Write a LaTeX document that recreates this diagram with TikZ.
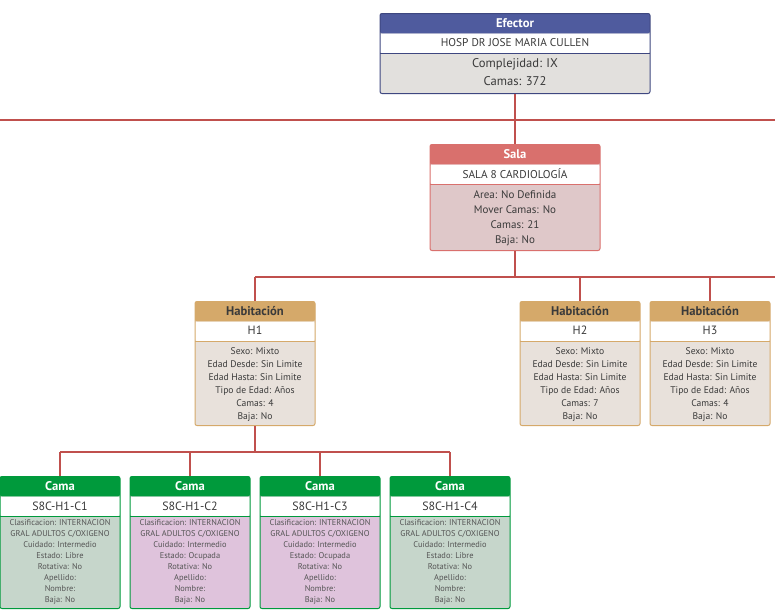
\documentclass[tikz,border=0pt]{standalone}
\usepackage{fontspec}
\setmainfont{PT Sans}
\definecolor{linered}{HTML}{C0504D}
\definecolor{efhead}{HTML}{4F5B9E}
\definecolor{efbody}{HTML}{E2E0DD}
\definecolor{efborder}{HTML}{3E4780}
\definecolor{sahead}{HTML}{D9706D}
\definecolor{sabody}{HTML}{DFC8C9}
\definecolor{saborder}{HTML}{D9706D}
\definecolor{hahead}{HTML}{D5A96A}
\definecolor{habody}{HTML}{E8E1DB}
\definecolor{haborder}{HTML}{D5A96A}
\definecolor{cghead}{HTML}{009A3C}
\definecolor{cgbody}{HTML}{C6D6CB}
\definecolor{cgborder}{HTML}{009A3C}
\definecolor{cphead}{HTML}{009A3C}
\definecolor{cpbody}{HTML}{DFC3DC}
\definecolor{cpborder}{HTML}{009A3C}
\definecolor{txt}{HTML}{3A3A3A}
\definecolor{txtl}{HTML}{555555}
\newcommand\card[6]{%
  \node[cardbox, draw=#6border, fill=#6body, minimum width=#4pt, minimum height=#5pt, anchor=north,
    path picture={
      \fill[#6head] (path picture bounding box.north west) rectangle ([yshift=-20pt]path picture bounding box.north east);
      \fill[white] ([yshift=-20pt]path picture bounding box.north west) rectangle ([yshift=-39.5pt]path picture bounding box.north east);
      \draw[#6border, line width=1pt] ([yshift=-39.5pt]path picture bounding box.north west) -- ([yshift=-39.5pt]path picture bounding box.north east);
    }] (#1) at (#2,#3) {};%
}
\begin{document}
\begin{tikzpicture}[x=1pt,y=-1pt,
  conn/.style={draw=linered, line width=2pt},
  cardbox/.style={rectangle, rounded corners=2pt, line width=1pt, inner sep=0pt},
  ttl/.style={inner sep=0pt, font=\fontsize{12.6}{14}\selectfont\bfseries},
  sub/.style={inner sep=0pt, text=txt, font=\fontsize{11.3}{13}\selectfont},
  csub/.style={inner sep=0pt, text=txt, font=\fontsize{12}{14}\selectfont},
  efb/.style={inner sep=0pt, align=center, text=txt, font=\fontsize{12.6}{18}\selectfont},
  sab/.style={inner sep=0pt, align=center, text=txt, font=\fontsize{11}{15}\selectfont},
  hab/.style={inner sep=0pt, align=center, text=txt, font=\fontsize{9.6}{13}\selectfont},
  cab/.style={inner sep=0pt, align=center, text=txtl, font=\fontsize{8.4}{11}\selectfont},
]
\useasboundingbox (0,0) rectangle (775,614);

% connectors
\coordinate (topL) at (0,120);
\coordinate (topR) at (775,120);
\coordinate (topJ) at (515,120);
\coordinate (midJ) at (515,277);
\coordinate (midL) at (255,277);
\coordinate (midR) at (775,277);
\coordinate (m2) at (580,277);
\coordinate (m3) at (710,277);
\coordinate (lowJ) at (255,452);
\coordinate (lowL) at (60,452);
\coordinate (lowR) at (450,452);
\coordinate (l2) at (190,452);
\coordinate (l3) at (320,452);

\card{ef}{515}{13}{270}{80}{ef}
\card{sa}{515}{144}{170}{106}{sa}
\card{h1}{255}{301}{120}{124}{ha}
\card{h2}{580}{301}{120}{124}{ha}
\card{h3}{710}{301}{120}{124}{ha}
\card{c1}{60}{476}{120}{132}{cg}
\card{c2}{190}{476}{120}{132}{cp}
\card{c3}{320}{476}{120}{132}{cp}
\card{c4}{450}{476}{120}{132}{cg}

\draw[conn] (ef.south) -- (topJ) -- (sa.north);
\draw[conn] (topL) -- (topR);
\draw[conn] (sa.south) -- (midJ);
\draw[conn] (midL) -- (midR);
\draw[conn] (midL) -- (h1.north);
\draw[conn] (m2) -- (h2.north);
\draw[conn] (m3) -- (h3.north);
\draw[conn] (h1.south) -- (lowJ);
\draw[conn] (lowL) -- (lowR);
\draw[conn] (lowL) -- (c1.north);
\draw[conn] (l2) -- (c2.north);
\draw[conn] (l3) -- (c3.north);
\draw[conn] (lowR) -- (c4.north);

% Efector
\node[ttl, text=white] (ef-t) at (515,23) {Efector};
\node[sub] (ef-s) at (515,42.5) {HOSP DR JOSE MARIA CULLEN};
\node[efb] (ef-b) at (515,72.5) {Complejidad: IX\\Camas: 372};
% Sala
\node[ttl, text=white] (sa-t) at (515,154) {Sala};
\node[sub] (sa-s) at (515,173.5) {SALA 8 CARDIOLOGÍA};
\node[sab] (sa-b) at (515,218) {Area: No Definida\\Mover Camas: No\\Camas: 21\\Baja: No};
% Habitaciones
\node[ttl, text=txt] (h1-t) at (255,311) {Habitación};
\node[sub, font=\fontsize{12}{14}\selectfont] (h1-s) at (255,330) {H1};
\node[hab] (h1-b) at (255,384.5) {Sexo: Mixto\\Edad Desde: Sin Limite\\Edad Hasta: Sin Limite\\Tipo de Edad: Años\\Camas: 4\\Baja: No};
\node[ttl, text=txt] (h2-t) at (580,311) {Habitación};
\node[sub, font=\fontsize{12}{14}\selectfont] (h2-s) at (580,330) {H2};
\node[hab] (h2-b) at (580,384.5) {Sexo: Mixto\\Edad Desde: Sin Limite\\Edad Hasta: Sin Limite\\Tipo de Edad: Años\\Camas: 7\\Baja: No};
\node[ttl, text=txt] (h3-t) at (710,311) {Habitación};
\node[sub, font=\fontsize{12}{14}\selectfont] (h3-s) at (710,330) {H3};
\node[hab] (h3-b) at (710,384.5) {Sexo: Mixto\\Edad Desde: Sin Limite\\Edad Hasta: Sin Limite\\Tipo de Edad: Años\\Camas: 4\\Baja: No};
% Camas
\node[ttl, text=white] (c1-t) at (60,486) {Cama};
\node[csub] (c1-s) at (60,506) {S8C-H1-C1};
\node[cab] (c1-b) at (60,562) {Clasificacion: INTERNACION\\GRAL ADULTOS C/OXIGENO\\Cuidado: Intermedio\\Estado: Libre\\Rotativa: No\\Apellido:\\Nombre:\\Baja: No};
\node[ttl, text=white] (c2-t) at (190,486) {Cama};
\node[csub] (c2-s) at (190,506) {S8C-H1-C2};
\node[cab] (c2-b) at (190,562) {Clasificacion: INTERNACION\\GRAL ADULTOS C/OXIGENO\\Cuidado: Intermedio\\Estado: Ocupada\\Rotativa: No\\Apellido:\\Nombre:\\Baja: No};
\node[ttl, text=white] (c3-t) at (320,486) {Cama};
\node[csub] (c3-s) at (320,506) {S8C-H1-C3};
\node[cab] (c3-b) at (320,562) {Clasificacion: INTERNACION\\GRAL ADULTOS C/OXIGENO\\Cuidado: Intermedio\\Estado: Ocupada\\Rotativa: No\\Apellido:\\Nombre:\\Baja: No};
\node[ttl, text=white] (c4-t) at (450,486) {Cama};
\node[csub] (c4-s) at (450,506) {S8C-H1-C4};
\node[cab] (c4-b) at (450,562) {Clasificacion: INTERNACION\\GRAL ADULTOS C/OXIGENO\\Cuidado: Intermedio\\Estado: Libre\\Rotativa: No\\Apellido:\\Nombre:\\Baja: No};
\end{tikzpicture}
\end{document}
